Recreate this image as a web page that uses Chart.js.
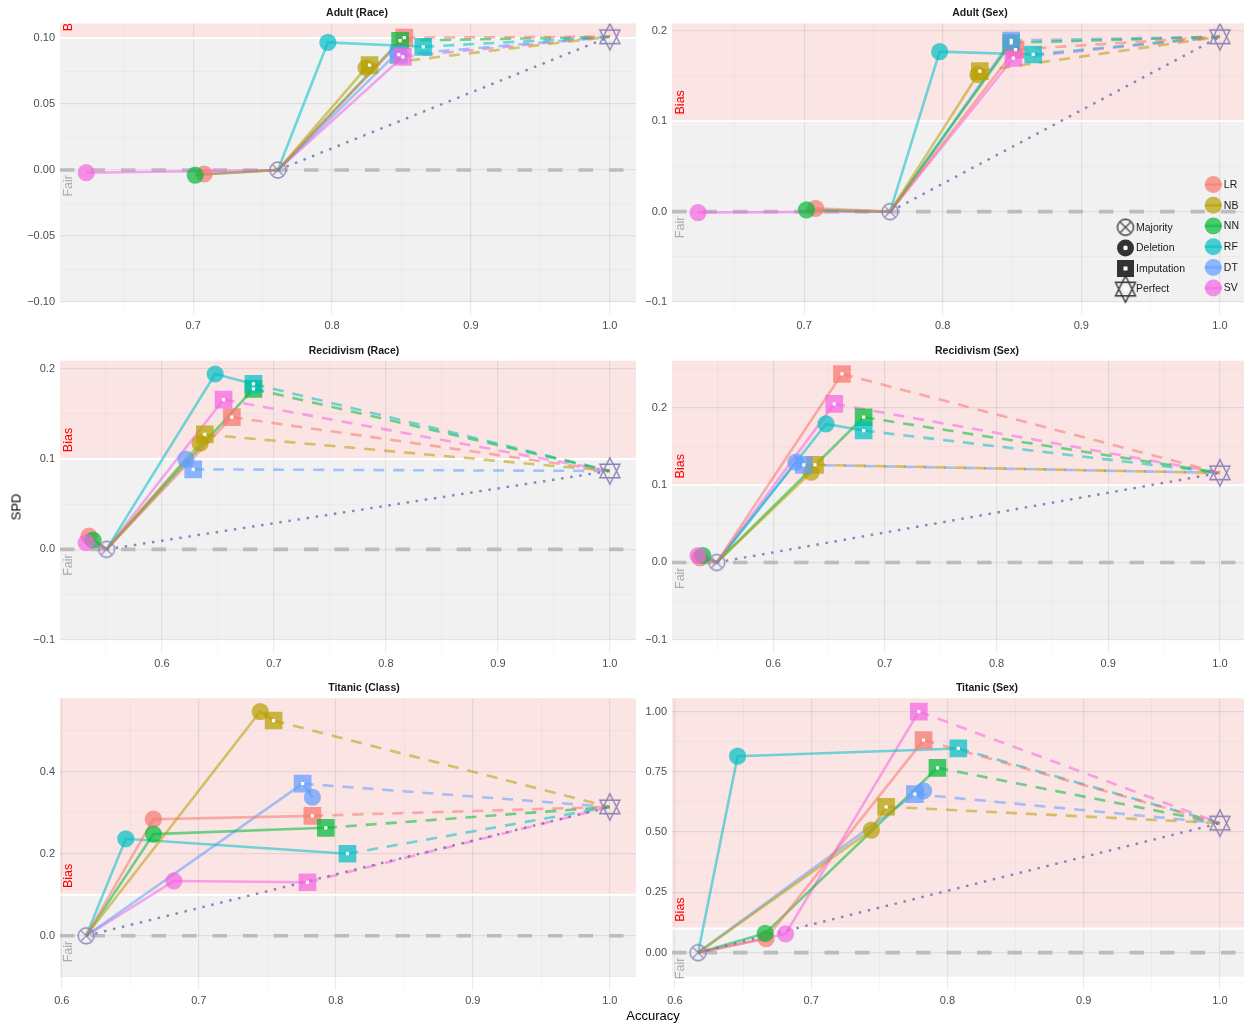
<!DOCTYPE html>
<html>
<head>
<meta charset="utf-8">
<script src="https://cdn.jsdelivr.net/npm/chart.js@4.4.0/dist/chart.umd.min.js"></script>
<style>
    html, body { margin: 0; padding: 0; background: #fff; overflow: hidden; }
    #page { position: relative; width: 1244px; height: 1025px; overflow: hidden;
            font-family: "Liberation Sans", Arial, sans-serif; }
    .panel { position: absolute; }
    .strip { position: absolute; font-weight: bold; font-size: 10.5px; color: #1a1a1a;
             white-space: nowrap; line-height: 1; transform: translate(-50%, -50%); }
    .axis-title { position: absolute; font-size: 13px; color: #000; white-space: nowrap;
                  line-height: 1; transform: translate(-50%, -50%); }
</style>
</head>
<body>
<div id="page"></div>
<script>
// ---- data ----
const models = ['LR', 'NB', 'NN', 'RF', 'DT', 'SV'];
const modelColors = ['#F8766D', '#B79F00', '#00BA38', '#00BFC4', '#619CFF', '#F564E3'];
const methods = ['Majority', 'Deletion', 'Imputation', 'Perfect'];
const panelTitles = ['Adult (Race)', 'Adult (Sex)', 'Recidivism (Race)', 'Recidivism (Sex)', 'Titanic (Class)', 'Titanic (Sex)'];
const zoneLabels = ['Bias', 'Fair'];
const biasThreshold = 0.1;
const fairFloor = -0.1;

// Adult (Race)
const adultRaceDelAcc = [0.708, 0.8245, 0.7015, 0.797, 0.847, 0.623];
const adultRaceDelSpd = [-0.003, 0.0775, -0.0038, 0.0967, 0.089, -0.002];
const adultRaceImpAcc = [0.852, 0.827, 0.849, 0.8657, 0.848, 0.851];
const adultRaceImpSpd = [0.1003, 0.0795, 0.098, 0.0934, 0.0874, 0.0858];
const adultRaceMajority = [0.761, 0];
const adultRacePerfect = [1.0, 0.101];

// Adult (Sex)
const adultSexDelAcc = [0.7083, 0.8254, 0.7017, 0.7978, 0.8495, 0.6235];
const adultSexDelSpd = [0.0037, 0.1517, 0.002, 0.177, 0.185, -0.001];
const adultSexImpAcc = [0.8525, 0.8268, 0.8494, 0.8653, 0.8494, 0.851];
const adultSexImpSpd = [0.1794, 0.1555, 0.1868, 0.1739, 0.1894, 0.170];
const adultSexMajority = [0.762, 0];
const adultSexPerfect = [1.0, 0.1935];

// Recidivism (Race)
const recidRaceDelAcc = [0.5348, 0.6341, 0.5384, 0.6475, 0.6214, 0.5323];
const recidRaceDelSpd = [0.0145, 0.1175, 0.0103, 0.194, 0.0995, 0.0073];
const recidRaceImpAcc = [0.6624, 0.6383, 0.6817, 0.6817, 0.6279, 0.655];
const recidRaceImpSpd = [0.1462, 0.1271, 0.1775, 0.183, 0.0885, 0.1657];
const recidRaceMajority = [0.5505, 0];
const recidRacePerfect = [1.0, 0.0867];

// Recidivism (Sex)
const recidSexDelAcc = [0.5345, 0.634, 0.537, 0.6473, 0.6205, 0.5328];
const recidSexDelSpd = [0.006, 0.1168, 0.009, 0.1794, 0.1298, 0.009];
const recidSexImpAcc = [0.6616, 0.6375, 0.681, 0.681, 0.6274, 0.6547];
const recidSexImpSpd = [0.244, 0.1264, 0.188, 0.1708, 0.1264, 0.2053];
const recidSexMajority = [0.5495, 0];
const recidSexPerfect = [1.0, 0.116];

// Titanic (Class)
const titanicClassDelAcc = [0.6669, 0.7448, 0.6669, 0.6467, 0.7829, 0.6818];
const titanicClassDelSpd = [0.2847, 0.5474, 0.2482, 0.2368, 0.3382, 0.1338];
const titanicClassImpAcc = [0.7829, 0.7546, 0.7927, 0.8085, 0.7758, 0.7793];
const titanicClassImpSpd = [0.2928, 0.5255, 0.2636, 0.2003, 0.3715, 0.1306];
const titanicClassMajority = [0.6178, 0];
const titanicClassPerfect = [1.0, 0.3146];

// Titanic (Sex)
const titanicSexDelAcc = [0.6669, 0.7442, 0.6663, 0.646, 0.7825, 0.6812];
const titanicSexDelSpd = [0.058, 0.5085, 0.080, 0.815, 0.6714, 0.0775];
const titanicSexImpAcc = [0.7825, 0.755, 0.7927, 0.808, 0.7761, 0.779];
const titanicSexImpSpd = [0.8815, 0.605, 0.7667, 0.847, 0.6577, 1.0];
const titanicSexMajority = [0.617, 0];
const titanicSexPerfect = [1.0, 0.537];

// axis breaks per panel
const xBreaks = [
    [0.7, 0.8, 0.9, 1.0], [0.7, 0.8, 0.9, 1.0],
    [0.6, 0.7, 0.8, 0.9, 1.0], [0.6, 0.7, 0.8, 0.9, 1.0],
    [0.6, 0.7, 0.8, 0.9, 1.0], [0.6, 0.7, 0.8, 0.9, 1.0]
];
const yBreaks = [
    [-0.1, -0.05, 0, 0.05, 0.1], [-0.1, 0, 0.1, 0.2],
    [-0.1, 0, 0.1, 0.2], [-0.1, 0, 0.1, 0.2],
    [0, 0.2, 0.4], [0, 0.25, 0.5, 0.75, 1.0]
];
const yDigits = [2, 1, 1, 1, 1, 2];

const panelData = [
    [adultRaceDelAcc, adultRaceDelSpd, adultRaceImpAcc, adultRaceImpSpd, adultRaceMajority, adultRacePerfect],
    [adultSexDelAcc, adultSexDelSpd, adultSexImpAcc, adultSexImpSpd, adultSexMajority, adultSexPerfect],
    [recidRaceDelAcc, recidRaceDelSpd, recidRaceImpAcc, recidRaceImpSpd, recidRaceMajority, recidRacePerfect],
    [recidSexDelAcc, recidSexDelSpd, recidSexImpAcc, recidSexImpSpd, recidSexMajority, recidSexPerfect],
    [titanicClassDelAcc, titanicClassDelSpd, titanicClassImpAcc, titanicClassImpSpd, titanicClassMajority, titanicClassPerfect],
    [titanicSexDelAcc, titanicSexDelSpd, titanicSexImpAcc, titanicSexImpSpd, titanicSexMajority, titanicSexPerfect]
];

// ---- layout (pixels) ----
const geom = [
    { left: 0,   top: 0,   width: 640, height: 338, padTop: 23.5, yAxisW: 60, padRight: 4, titleX: 357, titleY: 12.3 },
    { left: 640, top: 0,   width: 606, height: 338, padTop: 23.5, yAxisW: 32, padRight: 0, titleX: 980, titleY: 12.3 },
    { left: 0,   top: 338, width: 640, height: 338, padTop: 22.7, yAxisW: 60, padRight: 4, titleX: 354, titleY: 350.3 },
    { left: 640, top: 338, width: 606, height: 338, padTop: 22.7, yAxisW: 32, padRight: 0, titleX: 977, titleY: 350.3 },
    { left: 0,   top: 678, width: 640, height: 347, padTop: 20.3, yAxisW: 60, padRight: 4, titleX: 364, titleY: 687.3 },
    { left: 640, top: 678, width: 606, height: 347, padTop: 20.3, yAxisW: 32, padRight: 0, titleX: 987, titleY: 687.3 }
];
const xAxisH = [22.7, 22.7, 23, 23, 35, 35];

const FONT = '"Liberation Sans", Arial, sans-serif';
const markerColor = '#8a82b4';
const dottedColor = 'rgba(120,110,180,0.85)';

Chart.defaults.font.family = FONT;

function rgba(hex, a) {
    const n = parseInt(hex.slice(1), 16);
    return 'rgba(' + (n >> 16) + ',' + ((n >> 8) & 255) + ',' + (n & 255) + ',' + a + ')';
}

function fmt(v, d) {
    const s = Math.abs(v).toFixed(d);
    return (v < -1e-9 ? '\u2212' : '') + s;
}

function expand(vals) {
    const lo = Math.min(...vals), hi = Math.max(...vals);
    const d = (hi - lo) * 0.05;
    return [lo - d, hi + d];
}

// majors plus midpoints (minor grid), limited to the visible range
function buildTicks(breaks, lo, hi) {
    const step = breaks[1] - breaks[0];
    const out = [];
    breaks.forEach(b => out.push({ value: b, major: true }));
    for (let i = -1; i < breaks.length; i++) {
        const base = i < 0 ? breaks[0] - step : breaks[i];
        out.push({ value: base + step / 2, major: false });
    }
    return out.filter(t => t.value >= lo - 1e-9 && t.value <= hi + 1e-9)
              .sort((a, b) => a.value - b.value);
}

function makeMajorityMarker(color) {
    const c = document.createElement('canvas');
    c.width = 20; c.height = 20;
    const g = c.getContext('2d');
    g.strokeStyle = color; g.lineWidth = 1.3;
    g.beginPath(); g.arc(10, 10, 8, 0, Math.PI * 2); g.stroke();
    const d = 8 * Math.SQRT1_2;
    g.beginPath();
    g.moveTo(10 - d, 10 - d); g.lineTo(10 + d, 10 + d);
    g.moveTo(10 + d, 10 - d); g.lineTo(10 - d, 10 + d);
    g.stroke();
    return c;
}

function makePerfectMarker(color) {
    const c = document.createElement('canvas');
    c.width = 24; c.height = 30;
    const g = c.getContext('2d');
    g.strokeStyle = color; g.lineWidth = 1.4; g.lineJoin = 'miter';
    g.beginPath();
    g.moveTo(12, 1.7); g.lineTo(2, 21.7); g.lineTo(22, 21.7); g.closePath();
    g.moveTo(2, 8.3); g.lineTo(22, 8.3); g.lineTo(12, 28.3); g.closePath();
    g.stroke();
    return c;
}

const majorityImg = makeMajorityMarker(markerColor);
const perfectImg = makePerfectMarker(markerColor);
const majorityKey = makeMajorityMarker('#333333');
const perfectKey = makePerfectMarker('#333333');

// background zones, zero line, zone labels
const zonePlugin = {
    id: 'zones',
    beforeDraw(chart) {
        const { ctx, chartArea: a, scales: { y } } = chart;
        const yb = y.getPixelForValue(biasThreshold);
        const yf = y.getPixelForValue(fairFloor);
        ctx.save();
        ctx.fillStyle = 'rgb(241,241,241)';
        ctx.fillRect(a.left, yb, a.right - a.left, yf - yb);
        ctx.fillStyle = 'rgb(250,228,228)';
        ctx.fillRect(a.left, a.top, a.right - a.left, yb - a.top);
        ctx.restore();
    },
    beforeDatasetsDraw(chart) {
        const { ctx, chartArea: a, scales: { y } } = chart;
        const yb = y.getPixelForValue(biasThreshold);
        const y0 = y.getPixelForValue(0);
        ctx.save();
        ctx.beginPath();
        ctx.rect(a.left, a.top, a.right - a.left, a.bottom - a.top);
        ctx.clip();
        // white separator between the zones
        ctx.strokeStyle = '#ffffff';
        ctx.lineWidth = 2;
        ctx.beginPath(); ctx.moveTo(a.left, yb); ctx.lineTo(a.right, yb); ctx.stroke();
        // fair reference line
        ctx.strokeStyle = '#bcbcbc';
        ctx.lineWidth = 3.6;
        ctx.setLineDash([14.5, 16]);
        ctx.beginPath(); ctx.moveTo(a.left, y0); ctx.lineTo(a.right, y0); ctx.stroke();
        ctx.setLineDash([]);
        // zone labels
        ctx.font = '12.5px ' + FONT;
        ctx.textBaseline = 'middle';
        ctx.translate(a.left + 8.5, 0);
        ctx.rotate(-Math.PI / 2);
        ctx.fillStyle = '#ff0000';
        ctx.textAlign = 'left';
        ctx.fillText(zoneLabels[0], -(yb - 6.8), 0);
        ctx.fillStyle = '#adadad';
        ctx.textAlign = 'right';
        ctx.fillText(zoneLabels[1], -(y0 + 5), 0);
        ctx.restore();
    }
};

// legend drawn inside the Adult (Sex) panel
const legendPlugin = {
    id: 'shapeColorLegend',
    afterDraw(chart) {
        const ctx = chart.ctx;
        ctx.save();
        ctx.font = '10.5px ' + FONT;
        ctx.textBaseline = 'middle';
        ctx.textAlign = 'left';
        const shapeX = 485.5, shapeY = [227.3, 247.9, 268.5, 289.1];
        methods.forEach((m, i) => {
            const cy = shapeY[i];
            if (m === 'Majority') {
                ctx.drawImage(majorityKey, shapeX - 10, cy - 10);
            } else if (m === 'Deletion') {
                ctx.fillStyle = '#333333';
                ctx.beginPath(); ctx.arc(shapeX, cy, 8.5, 0, Math.PI * 2); ctx.fill();
                ctx.fillStyle = '#ffffff';
                ctx.beginPath(); ctx.arc(shapeX, cy, 2.3, 0, Math.PI * 2); ctx.fill();
            } else if (m === 'Imputation') {
                ctx.fillStyle = '#333333';
                ctx.fillRect(shapeX - 8.5, cy - 8.5, 17, 17);
                ctx.fillStyle = '#ffffff';
                ctx.fillRect(shapeX - 2, cy - 2, 4, 4);
            } else {
                ctx.fillStyle = '#ffffff';
                ctx.beginPath(); ctx.arc(shapeX, cy, 2.3, 0, Math.PI * 2); ctx.fill();
                ctx.drawImage(perfectKey, shapeX - 12, cy - 15);
            }
            ctx.fillStyle = '#1a1a1a';
            ctx.fillText(m, shapeX + 10.5, cy + 0.5);
        });
        const colX = 573.3, colY = [184.6, 205.3, 226, 246.7, 267.4, 288.1];
        models.forEach((m, i) => {
            const cy = colY[i];
            ctx.fillStyle = rgba(modelColors[i], 0.7);
            ctx.beginPath(); ctx.arc(colX, cy, 8.5, 0, Math.PI * 2); ctx.fill();
            ctx.strokeStyle = rgba(modelColors[i], 0.55);
            ctx.lineWidth = 2.6;
            ctx.beginPath(); ctx.moveTo(colX - 8.5, cy); ctx.lineTo(colX + 8.5, cy); ctx.stroke();
            ctx.fillStyle = '#1a1a1a';
            ctx.fillText(m, colX + 10.5, cy + 0.5);
        });
        ctx.restore();
    }
};

function buildDatasets(p) {
    const [delAcc, delSpd, impAcc, impSpd, majority, perfect] = p;
    const maj = { x: majority[0], y: majority[1] };
    const perf = { x: perfect[0], y: perfect[1] };
    const sets = [];
    models.forEach((m, i) => {
        const del = { x: delAcc[i], y: delSpd[i] };
        const imp = { x: impAcc[i], y: impSpd[i] };
        // connect the three points in order of accuracy, like geom_line
        const path = [maj, del, imp].slice().sort((a, b) => a.x - b.x);
        sets.push({
            data: path, showLine: true, tension: 0,
            borderColor: rgba(modelColors[i], 0.55), borderWidth: 2.6,
            pointRadius: 0, order: 6
        });
        sets.push({
            data: [imp, perf], showLine: true, tension: 0,
            borderColor: rgba(modelColors[i], 0.55), borderWidth: 2.6,
            borderDash: [11, 9], pointRadius: 0, order: 6
        });
    });
    sets.push({
        data: [maj, perf], showLine: true, tension: 0,
        borderColor: dottedColor, borderWidth: 2.4,
        borderDash: [2.5, 6.7], pointRadius: 0, order: 5
    });
    sets.push({
        data: models.map((m, i) => ({ x: delAcc[i], y: delSpd[i] })),
        pointStyle: 'circle', pointRadius: 8.6, borderWidth: 0,
        backgroundColor: modelColors.map(c => rgba(c, 0.7)), order: 3
    });
    sets.push({
        data: models.map((m, i) => ({ x: impAcc[i], y: impSpd[i] })),
        pointStyle: 'rect', pointRadius: 12.5, borderWidth: 0,
        backgroundColor: modelColors.map(c => rgba(c, 0.72)), order: 2
    });
    sets.push({
        data: models.map((m, i) => ({ x: impAcc[i], y: impSpd[i] })),
        pointStyle: 'rect', pointRadius: 2.3, borderWidth: 0,
        backgroundColor: 'rgba(255,255,255,0.95)', order: 1
    });
    sets.push({ data: [maj], pointStyle: majorityImg, pointRadius: 8, order: 0 });
    sets.push({ data: [perf], pointStyle: perfectImg, pointRadius: 10, order: 0 });
    return sets;
}

const page = document.getElementById('page');

panelData.forEach((p, k) => {
    const g = geom[k];
    const [delAcc, delSpd, impAcc, impSpd, majority, perfect] = p;

    const xRange = expand([...delAcc, ...impAcc, majority[0], perfect[0]]);
    const yRange = expand([...delSpd, ...impSpd, majority[1], perfect[1], fairFloor, biasThreshold]);
    const xTicks = buildTicks(xBreaks[k], xRange[0], xRange[1]);
    const yTicks = buildTicks(yBreaks[k], yRange[0], yRange[1]);

    const canvas = document.createElement('canvas');
    canvas.className = 'panel';
    canvas.style.left = g.left + 'px';
    canvas.style.top = g.top + 'px';
    canvas.style.width = g.width + 'px';
    canvas.style.height = g.height + 'px';
    canvas.width = g.width;
    canvas.height = g.height;
    page.appendChild(canvas);

    const title = document.createElement('div');
    title.className = 'strip';
    title.style.left = g.titleX + 'px';
    title.style.top = g.titleY + 'px';
    title.textContent = panelTitles[k];
    page.appendChild(title);

    const isMajor = (list, v) => list.some(t => t.major && Math.abs(t.value - v) < 1e-9);
    const gridColor = (list) => (c) => isMajor(list, c.tick.value) ? 'rgba(0,0,0,0.075)' : 'rgba(0,0,0,0.04)';
    const gridWidth = (list) => (c) => isMajor(list, c.tick.value) ? 1.2 : 0.8;

    new Chart(canvas, {
        type: 'scatter',
        data: { datasets: buildDatasets(p) },
        options: {
            responsive: false,
            animation: false,
            events: [],
            devicePixelRatio: 1,
            layout: { autoPadding: false, padding: { top: g.padTop, right: g.padRight, bottom: 0, left: 0 } },
            plugins: { legend: { display: false }, tooltip: { enabled: false } },
            scales: {
                x: {
                    type: 'linear', bounds: 'data',
                    min: xRange[0], max: xRange[1],
                    afterBuildTicks: (axis) => { axis.ticks = xTicks.map(t => ({ value: t.value })); },
                    afterFit: (axis) => { axis.height = xAxisH[k]; },
                    ticks: {
                        autoSkip: false, maxRotation: 0, padding: 4,
                        color: '#4d4d4d', font: { size: 11 },
                        callback: (v) => isMajor(xTicks, v) ? v.toFixed(1) : ''
                    },
                    grid: { color: gridColor(xTicks), lineWidth: gridWidth(xTicks), drawTicks: false },
                    border: { display: false }
                },
                y: {
                    type: 'linear', bounds: 'data',
                    min: yRange[0], max: yRange[1],
                    afterBuildTicks: (axis) => { axis.ticks = yTicks.map(t => ({ value: t.value })); },
                    afterFit: (axis) => { axis.width = g.yAxisW; },
                    ticks: {
                        autoSkip: false, padding: 5,
                        color: '#4d4d4d', font: { size: 11 },
                        callback: (v) => isMajor(yTicks, v) ? fmt(v, yDigits[k]) : ''
                    },
                    grid: { color: gridColor(yTicks), lineWidth: gridWidth(yTicks), drawTicks: false },
                    border: { display: false }
                }
            }
        },
        plugins: k === 1 ? [zonePlugin, legendPlugin] : [zonePlugin]
    });
});

const yTitle = document.createElement('div');
yTitle.className = 'axis-title';
yTitle.style.left = '15.5px';
yTitle.style.top = '507px';
yTitle.style.transform = 'translate(-50%, -50%) rotate(-90deg)';
yTitle.textContent = 'SPD';
page.appendChild(yTitle);

const xTitle = document.createElement('div');
xTitle.className = 'axis-title';
xTitle.style.left = '653px';
xTitle.style.top = '1015px';
xTitle.textContent = 'Accuracy';
page.appendChild(xTitle);
</script>
</body>
</html>
